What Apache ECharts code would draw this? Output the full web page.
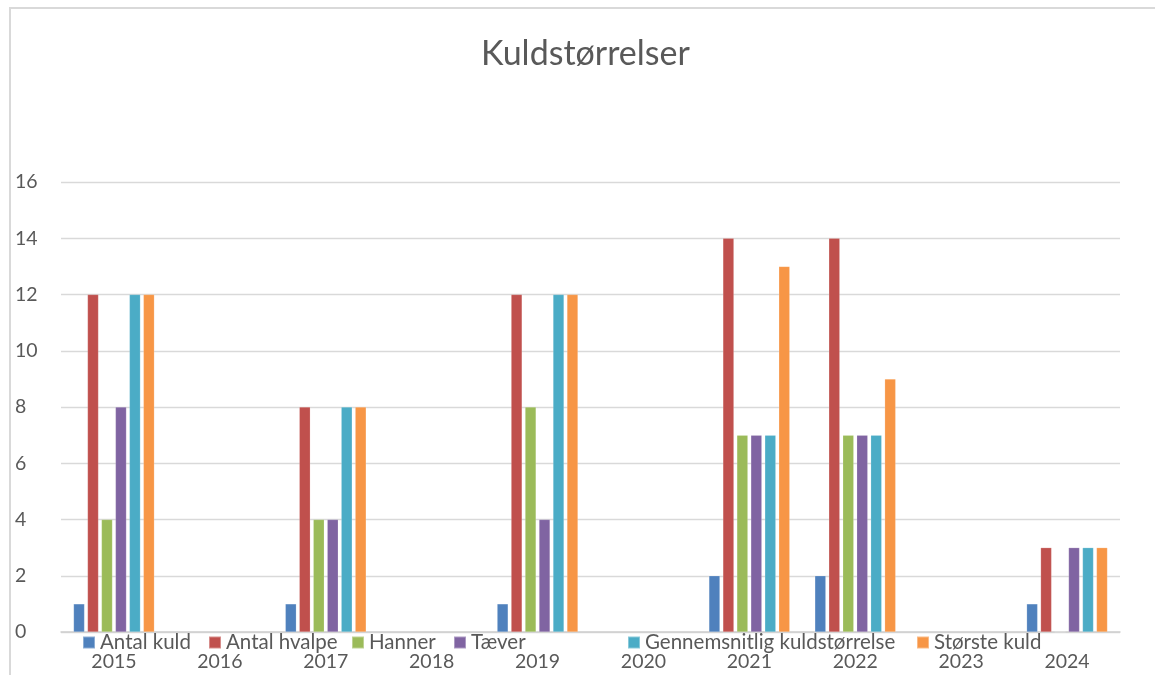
<!DOCTYPE html>
<html>
<head>
<meta charset="utf-8">
<script src="https://cdn.jsdelivr.net/npm/echarts@6/dist/echarts.min.js"></script>
<style>html,body{margin:0;padding:0;background:#fff}#c{width:1155px;height:675px}</style>
</head>
<body>
<div id="c"></div>
<script>
const categories = ['2015','2016','2017','2018','2019','2020','2021','2022','2023','2024'];
const antalKuld    = [1, null, 1, null, 1, null, 2, 2, null, 1];
const antalHvalpe  = [12, null, 8, null, 12, null, 14, 14, null, 3];
const hanner       = [4, null, 4, null, 8, null, 7, 7, null, 0];
const taever       = [8, null, 4, null, 4, null, 7, 7, null, 3];
const gennemsnit   = [12, null, 8, null, 12, null, 7, 7, null, 3];
const stoersteKuld = [12, null, 8, null, 12, null, 13, 9, null, 3];
const seriesNames = ['Antal kuld','Antal hvalpe','Hanner','Tæver','Gennemsnitlig kuldstørrelse','Største kuld'];
const seriesData = [antalKuld, antalHvalpe, hanner, taever, gennemsnit, stoersteKuld];
const colors = ['#4f81bd','#c0504d','#9bbb59','#8064a2','#4bacc6','#f79646'];
const legendLeft = [77, 203, 346, 448, 622, 911];

const font = 'Lato, "Open Sans", sans-serif';
const chart = echarts.init(document.getElementById('c'));
chart.setOption({
  animation: false,
  color: colors,
  title: {
    text: 'Kuldstørrelser',
    left: 476,
    top: 32,
    textStyle: {fontFamily: font, fontSize: 34, fontWeight: 'normal', color: '#595959'}
  },
  graphic: [{
    type: 'rect', silent: true,
    shape: {x: 10, y: 8, width: 1300, height: 800},
    style: {fill: 'none', stroke: '#d9d9d9', lineWidth: 2}
  }],
  legend: seriesNames.map((n, i) => ({
    left: legendLeft[i], top: 627,
    itemWidth: 12, itemHeight: 12,
    icon: 'rect',
    textStyle: {fontFamily: font, fontSize: 20.5, color: '#595959'},
    data: [n]
  })),
  grid: {left: 61, right: 35, top: 182, bottom: 43, containLabel: false},
  xAxis: {
    type: 'category',
    data: categories,
    axisLine: {lineStyle: {color: '#d0d0d0', width: 1.5}},
    axisTick: {show: false},
    axisLabel: {fontFamily: font, fontSize: 19.5, color: '#595959', margin: 20}
  },
  yAxis: {
    type: 'value', min: 0, max: 16, interval: 2,
    axisLine: {show: false}, axisTick: {show: false},
    axisLabel: {fontFamily: font, fontSize: 19.5, color: '#595959', margin: 22, align: 'left', padding: [0,0,0,-24]},
    splitLine: {lineStyle: {color: '#d9d9d9', width: 1.3}}
  },
  series: seriesNames.map((n, i) => ({
    name: n, type: 'bar', data: seriesData[i],
    barWidth: 11, barGap: '27%', barCategoryGap: '23%',
    itemStyle: {color: colors[i], borderColor: 'rgba(255,255,255,0.35)', borderWidth: 0.5}
  }))
});
</script>
</body>
</html>
